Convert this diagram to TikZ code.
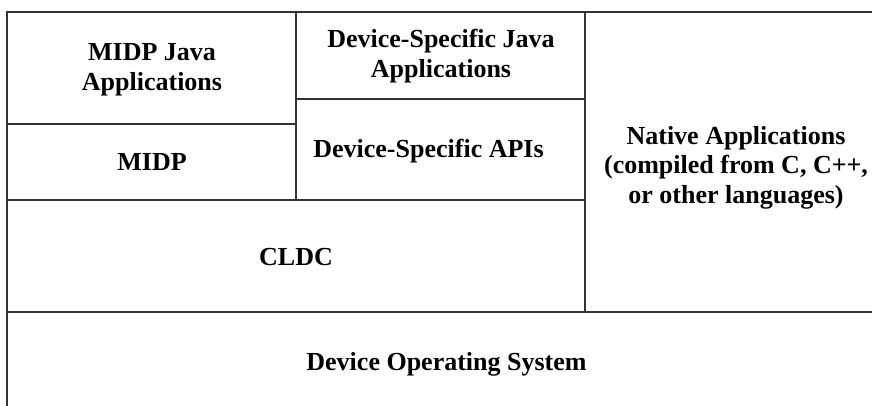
\documentclass[tikz,border=0pt]{standalone}
\usepackage{fontspec}
\setmainfont{Liberation Serif}
\begin{document}
\begin{tikzpicture}[x=1pt,y=-1pt,
  wall/.style={draw=black!80,line width=1.4pt},
  lbl/.style={font=\fontsize{26}{29.5}\selectfont\bfseries,align=center,inner sep=0pt,anchor=base}]
\useasboundingbox (0,0) rectangle (872,405);
\clip (0,0) rectangle (872,405);
% boxes
\draw[wall] (7,12) rectangle (296,124);
\draw[wall] (7,124) rectangle (296,200);
\draw[wall] (296,12) rectangle (585,99);
\draw[wall] (296,99) rectangle (585,200);
\draw[wall] (7,200) rectangle (585,312);
\draw[wall] (585,12) rectangle (900,312);
\draw[wall] (7,312) rectangle (900,430);
% labels (anchor = baseline of last line)
\node[lbl] (midpapps) at (152,90) {MIDP Java\\Applications};
\node[lbl] (midp) at (152,170.5) {MIDP};
\node[lbl] (dsjava) at (441,77) {Device-Specific Java\\Applications};
\node[lbl] (dsapi) at (428.5,157) {Device-Specific APIs};
\node[lbl] (native) at (736,203) {Native Applications\\(compiled from C, C++,\\or other languages)};
\node[lbl] (cldc) at (296,265) {CLDC};
\node[lbl] (os) at (446.5,370) {Device Operating System};
\end{tikzpicture}
\end{document}
